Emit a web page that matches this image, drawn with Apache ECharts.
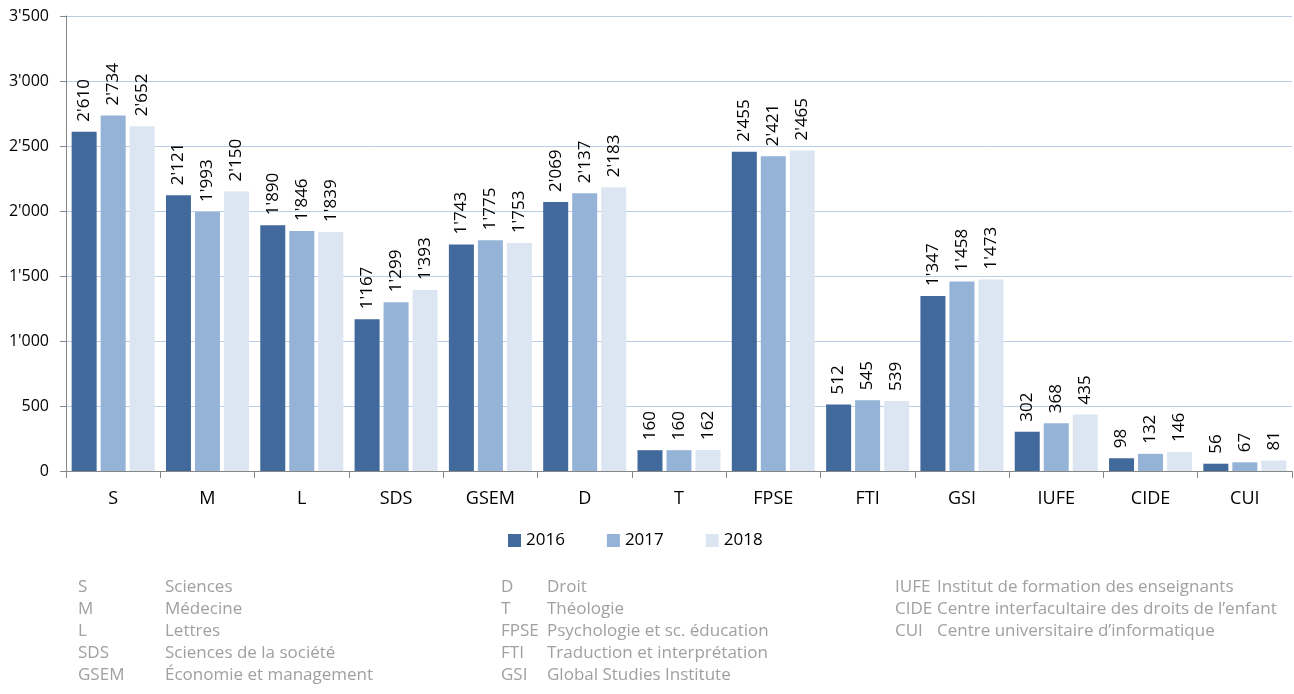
<!DOCTYPE html>
<html>
<head>
<meta charset="utf-8">
<script src="https://cdn.jsdelivr.net/npm/echarts@6/dist/echarts.min.js"></script>
<style>
  html, body { margin: 0; padding: 0; background: #fff; }
  #chart { width: 1294px; height: 694px; }
</style>
</head>
<body>
<div id="chart"></div>
<script>
const categories = ['S', 'M', 'L', 'SDS', 'GSEM', 'D', 'T', 'FPSE', 'FTI', 'GSI', 'IUFE', 'CIDE', 'CUI'];
const years = ['2016', '2017', '2018'];
const values2016 = [2610, 2121, 1890, 1167, 1743, 2069, 160, 2455, 512, 1347, 302, 98, 56];
const values2017 = [2734, 1993, 1846, 1299, 1775, 2137, 160, 2421, 545, 1458, 368, 132, 67];
const values2018 = [2652, 2150, 1839, 1393, 1753, 2183, 162, 2465, 539, 1473, 435, 146, 81];
const colors = ['#41699b', '#95b3d7', '#dce6f2'];

// footnote: abbreviation / full name, in three columns
const noteAbbr = [
  ['S', 'M', 'L', 'SDS', 'GSEM'],
  ['D', 'T', 'FPSE', 'FTI', 'GSI'],
  ['IUFE', 'CIDE', 'CUI']
];
const noteNames = [
  ['Sciences', 'Médecine', 'Lettres', 'Sciences de la société', 'Économie et management'],
  ['Droit', 'Théologie', 'Psychologie et sc. éducation', 'Traduction et interprétation', 'Global Studies Institute'],
  ['Institut de formation des enseignants', 'Centre interfacultaire des droits de l\u2019enfant', 'Centre universitaire d\u2019informatique']
];

function fmt(v) {
  return String(v).replace(/\B(?=(\d{3})+(?!\d))/g, "'");
}

const font = 'Open Sans, Noto Sans, sans-serif';
const noteX = [[78, 165], [501, 547], [895, 937]];
const graphic = [];
noteAbbr.forEach(function (col, c) {
  col.forEach(function (a, i) {
    const y = 587 + i * 22;
    graphic.push({ type: 'text', left: noteX[c][0], top: y - 8,
      style: { text: a, fill: '#a0a0a0', font: '17px ' + font } });
    graphic.push({ type: 'text', left: noteX[c][1], top: y - 8,
      style: { text: noteNames[c][i], fill: '#a0a0a0', font: '17px ' + font } });
  });
});

const seriesData = [values2016, values2017, values2018];

let chart = echarts.init(document.getElementById('chart'));
chart.setOption({
  animation: false,
  textStyle: { fontFamily: font },
  grid: { left: 66, right: 2, top: 16, bottom: 223, containLabel: false },
  legend: {
    data: years,
    top: 527,
    left: 503,
    itemWidth: 13,
    itemHeight: 13,
    itemGap: 42,
    icon: 'rect',
    textStyle: { fontSize: 17, color: '#000', fontFamily: font }
  },
  xAxis: {
    type: 'category',
    data: categories,
    axisLine: { lineStyle: { color: '#868686', width: 1 } },
    axisTick: { show: true, length: 7, lineStyle: { color: '#868686' } },
    axisLabel: { fontSize: 18, color: '#000', margin: 19 }
  },
  yAxis: {
    type: 'value',
    min: 0,
    max: 3500,
    interval: 500,
    axisLine: { show: true, lineStyle: { color: '#868686' } },
    axisTick: { show: true, length: 6, lineStyle: { color: '#868686' } },
    splitLine: { lineStyle: { color: '#b9cde5', width: 1 } },
    axisLabel: { fontSize: 16, color: '#000', margin: 17, formatter: fmt }
  },
  series: years.map(function (y, k) {
    return {
      name: y,
      type: 'bar',
      data: seriesData[k],
      barWidth: 25,
      barGap: '16%',
      itemStyle: { color: colors[k] },
      label: {
        show: true,
        position: 'top',
        rotate: 90,
        align: 'left',
        verticalAlign: 'middle',
        distance: 10,
        fontSize: 17,
        color: '#000',
        formatter: function (p) { return fmt(p.value); }
      }
    };
  }),
  graphic: graphic
});
window.addEventListener('resize', function () {
  chart.resize();
});
</script>
</body>
</html>
